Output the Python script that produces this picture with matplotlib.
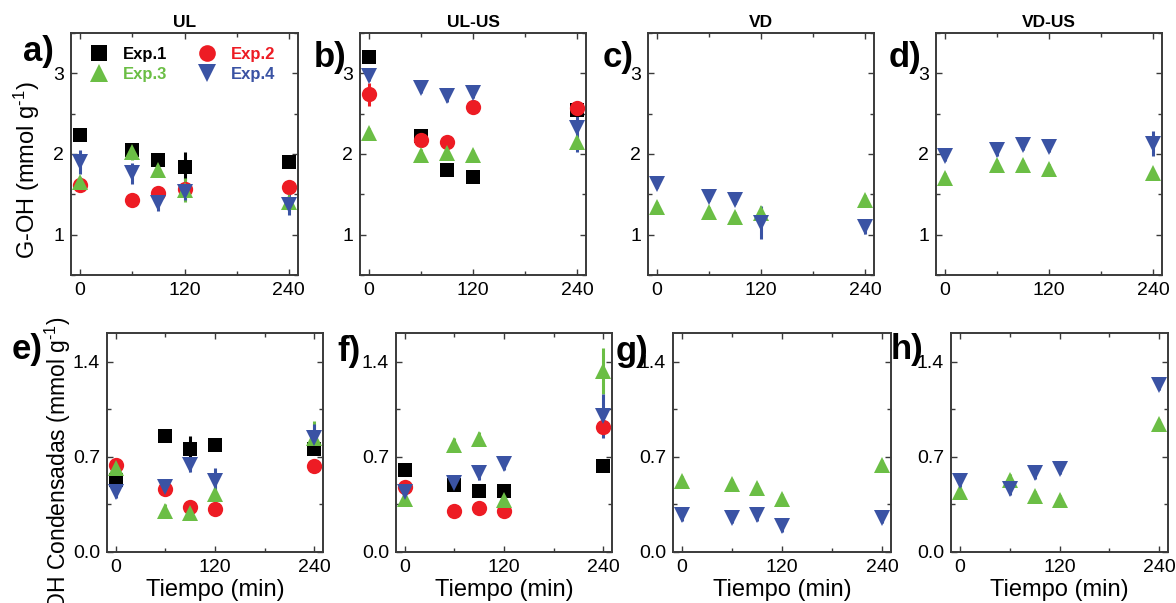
import matplotlib.pyplot as plt
from matplotlib.ticker import MultipleLocator
from matplotlib.lines import Line2D

plt.rcParams['font.family'] = ['Liberation Sans', 'DejaVu Sans']
plt.rcParams['mathtext.fontset'] = 'custom'
plt.rcParams['mathtext.rm'] = 'Liberation Sans'
plt.rcParams['mathtext.it'] = 'Liberation Sans:italic'
plt.rcParams['mathtext.bf'] = 'Liberation Sans:bold'

tiempo = [0, 60, 90, 120, 240]

# G-OH (mmol/g), top row
ul_exp1 = [2.24, 2.05, 1.92, 1.84, 1.90]
ul_exp1_err = [0.03, 0.04, 0.03, 0.18, 0.03]
ul_exp2 = [1.62, 1.43, 1.52, 1.57, 1.59]
ul_exp2_err = [0.04, 0.03, 0.04, 0.08, 0.03]
ul_exp3 = [1.65, 2.03, 1.80, 1.55, 1.40]
ul_exp3_err = [0.06, 0.10, 0.09, 0.15, 0.05]
ul_exp4 = [1.90, 1.76, 1.39, 1.53, 1.37]
ul_exp4_err = [0.15, 0.13, 0.10, 0.10, 0.13]

ulus_exp1 = [3.20, 2.22, 1.80, 1.72, 2.55]
ulus_exp1_err = [0.04, 0.08, 0.03, 0.03, 0.04]
ulus_exp2 = [2.74, 2.17, 2.15, 2.58, 2.57]
ulus_exp2_err = [0.14, 0.06, 0.03, 0.03, 0.04]
ulus_exp3 = [2.26, 1.99, 2.01, 1.99, 2.15]
ulus_exp3_err = [0.06, 0.07, 0.07, 0.06, 0.07]
ulus_exp4 = [2.97, 2.82, 2.72, 2.76, 2.32]
ulus_exp4_err = [0.06, 0.06, 0.07, 0.06, 0.30]

vd_exp3 = [1.34, 1.28, 1.22, 1.27, 1.43]
vd_exp3_err = [0.06, 0.06, 0.06, 0.07, 0.06]
vd_exp4 = [1.63, 1.47, 1.43, 1.15, 1.09]
vd_exp4_err = [0.05, 0.05, 0.05, 0.20, 0.08]

vdus_exp3 = [1.70, 1.86, 1.86, 1.81, 1.76]
vdus_exp3_err = [0.07, 0.06, 0.06, 0.06, 0.06]
vdus_exp4 = [1.97, 2.05, 2.11, 2.09, 2.13]
vdus_exp4_err = [0.06, 0.07, 0.06, 0.06, 0.15]

# G-OH condensadas (mmol/g), bottom row
ulc_exp1 = [0.53, 0.85, 0.76, 0.79, 0.76]
ulc_exp1_err = [0.03, 0.02, 0.09, 0.02, 0.05]
ulc_exp2 = [0.64, 0.46, 0.33, 0.315, 0.63]
ulc_exp2_err = [0.05, 0.05, 0.02, 0.02, 0.02]
ulc_exp3 = [0.62, 0.30, 0.285, 0.43, 0.84]
ulc_exp3_err = [0.05, 0.05, 0.05, 0.07, 0.12]
ulc_exp4 = [0.44, 0.48, 0.64, 0.52, 0.84]
ulc_exp4_err = [0.04, 0.06, 0.05, 0.10, 0.10]

ulusc_exp1 = [0.60, 0.49, 0.45, 0.45, 0.63]
ulusc_exp1_err = [0.04, 0.02, 0.02, 0.02, 0.02]
ulusc_exp2 = [0.48, 0.30, 0.32, 0.305, 0.92]
ulusc_exp2_err = [0.03, 0.02, 0.02, 0.02, 0.04]
ulusc_exp3 = [0.39, 0.79, 0.83, 0.38, 1.33]
ulusc_exp3_err = [0.05, 0.05, 0.05, 0.06, 0.17]
ulusc_exp4 = [0.44, 0.51, 0.58, 0.65, 1.00]
ulusc_exp4_err = [0.05, 0.05, 0.05, 0.05, 0.16]

vdc_exp3 = [0.52, 0.50, 0.47, 0.39, 0.64]
vdc_exp3_err = [0.04, 0.04, 0.04, 0.04, 0.04]
vdc_exp4 = [0.27, 0.25, 0.27, 0.19, 0.25]
vdc_exp4_err = [0.04, 0.04, 0.04, 0.04, 0.04]

vdusc_exp3 = [0.44, 0.53, 0.41, 0.38, 0.94]
vdusc_exp3_err = [0.04, 0.04, 0.04, 0.04, 0.04]
vdusc_exp4 = [0.52, 0.46, 0.58, 0.61, 1.23]
vdusc_exp4_err = [0.04, 0.04, 0.04, 0.04, 0.04]

titulos = ['UL', 'UL-US', 'VD', 'VD-US']
letras = ['a)', 'b)', 'c)', 'd)', 'e)', 'f)', 'g)', 'h)']

colores = {'Exp.1': '#000000', 'Exp.2': '#ED1C24', 'Exp.3': '#6BBE45', 'Exp.4': '#3A53A4'}
marcadores = {'Exp.1': 's', 'Exp.2': 'o', 'Exp.3': '^', 'Exp.4': 'v'}
tam = {'Exp.1': 10, 'Exp.2': 11, 'Exp.3': 12, 'Exp.4': 12}

paneles = [
    [('Exp.1', ul_exp1, ul_exp1_err), ('Exp.2', ul_exp2, ul_exp2_err),
     ('Exp.3', ul_exp3, ul_exp3_err), ('Exp.4', ul_exp4, ul_exp4_err)],
    [('Exp.1', ulus_exp1, ulus_exp1_err), ('Exp.2', ulus_exp2, ulus_exp2_err),
     ('Exp.3', ulus_exp3, ulus_exp3_err), ('Exp.4', ulus_exp4, ulus_exp4_err)],
    [('Exp.3', vd_exp3, vd_exp3_err), ('Exp.4', vd_exp4, vd_exp4_err)],
    [('Exp.3', vdus_exp3, vdus_exp3_err), ('Exp.4', vdus_exp4, vdus_exp4_err)],
    [('Exp.1', ulc_exp1, ulc_exp1_err), ('Exp.2', ulc_exp2, ulc_exp2_err),
     ('Exp.3', ulc_exp3, ulc_exp3_err), ('Exp.4', ulc_exp4, ulc_exp4_err)],
    [('Exp.1', ulusc_exp1, ulusc_exp1_err), ('Exp.2', ulusc_exp2, ulusc_exp2_err),
     ('Exp.3', ulusc_exp3, ulusc_exp3_err), ('Exp.4', ulusc_exp4, ulusc_exp4_err)],
    [('Exp.3', vdc_exp3, vdc_exp3_err), ('Exp.4', vdc_exp4, vdc_exp4_err)],
    [('Exp.3', vdusc_exp3, vdusc_exp3_err), ('Exp.4', vdusc_exp4, vdusc_exp4_err)],
]

W, H = 1176, 603
fig = plt.figure(figsize=(W / 100, H / 100), dpi=100)

# axes boxes in pixels: left, right, top, bottom
cajas = [(71, 298, 33, 275), (360, 586, 33, 275), (648, 874, 33, 275), (936, 1162, 33, 275),
         (107, 323, 333, 552), (396, 612, 333, 552), (673, 891, 333, 552), (951, 1168, 333, 552)]
pos_letra = [(38, 52), (330, 57), (618, 57), (905, 57),
             (27, 350), (349, 352), (632, 352), (907, 350)]

gris = '#3a3a3a'
for i, (l, r, t, b) in enumerate(cajas):
    ax = fig.add_axes([l / W, 1 - b / H, (r - l) / W, (b - t) / H])
    for nombre, y, e in paneles[i]:
        c = colores[nombre]
        ax.errorbar(tiempo, y, yerr=e, fmt=marcadores[nombre], color=c, ms=tam[nombre],
                    mew=0, elinewidth=2.2, capsize=4.5, capthick=2.2, clip_on=False, zorder=3)
    ax.set_xlim(-10.5, 250.5)
    ax.xaxis.set_major_locator(MultipleLocator(120))
    ax.xaxis.set_minor_locator(MultipleLocator(60))
    if i < 4:
        ax.set_ylim(0.5, 3.5)
        ax.yaxis.set_major_locator(MultipleLocator(1))
        ax.yaxis.set_minor_locator(MultipleLocator(0.5))
        ax.set_title(titulos[i], fontsize=12.5, fontweight='bold', pad=4)
    else:
        ax.set_ylim(0, 1.61)
        ax.yaxis.set_major_locator(MultipleLocator(0.7))
        ax.yaxis.set_minor_locator(MultipleLocator(0.35))
        ax.set_yticklabels([f'{v:.1f}' for v in ax.get_yticks()])
    ax.tick_params(which='both', direction='in', top=True, right=True, color=gris,
                   labelsize=14, width=1, pad=5)
    ax.tick_params(which='major', length=4)
    ax.tick_params(which='minor', length=3)
    for s in ax.spines.values():
        s.set_color(gris)
        s.set_linewidth(1.4)
    fig.text(pos_letra[i][0] / W, 1 - pos_letra[i][1] / H, letras[i], fontsize=25,
             fontweight='bold', ha='center', va='center')
    if i >= 4:
        fig.text((l + r) / 2 / W, 1 - 590 / H, 'Tiempo (min)', fontsize=17,
                 ha='center', va='center')
    if i == 0:
        orden = ['Exp.1', 'Exp.3', 'Exp.2', 'Exp.4']
        manejadores = [Line2D([], [], ls='', marker=marcadores[n], color=colores[n],
                              ms=tam[n] + 1, mew=0) for n in orden]
        leg = ax.legend(manejadores, orden, ncol=2,
                        loc='upper left', bbox_to_anchor=(0.015, 1.005), frameon=False,
                        prop={'weight': 'bold', 'size': 12}, handlelength=1.2,
                        handletextpad=0.8, columnspacing=1.8, labelspacing=0.3)
        for txt, n in zip(leg.get_texts(), orden):
            txt.set_color(colores[n])

fig.text(27 / W, 1 - 170 / H, 'G-OH (mmol g$^{\u2010 1}$)', fontsize=17, rotation=90,
         ha='center', va='center')
fig.text(58 / W, 1 - 317 / H, 'G-OH Condensadas (mmol g$^{\u2010 1}$)', fontsize=16.5,
         rotation=90, ha='center', va='top')

fig.savefig('out.png', dpi=100)
